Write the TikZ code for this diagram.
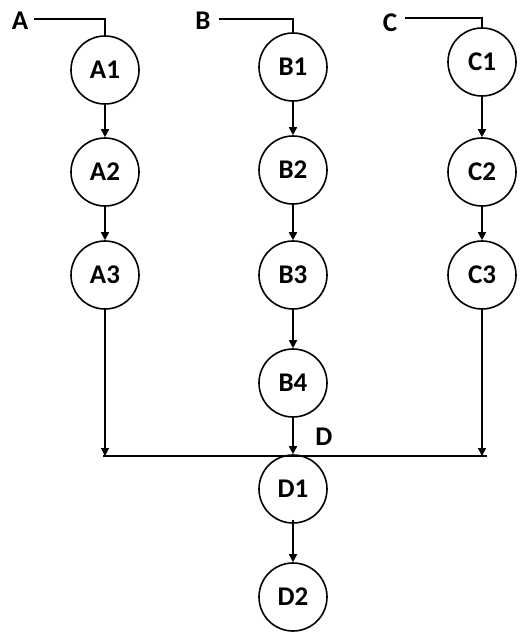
\documentclass[tikz,border=0pt]{standalone}
\usepackage{fontspec}
\setmainfont{Carlito}
\usetikzlibrary{arrows.meta}
\begin{document}
\begin{tikzpicture}[x=1pt,y=-1pt,
  circ/.style={draw,circle,line width=1.6pt,minimum size=68pt,inner sep=0pt,font=\fontsize{27}{29}\selectfont\bfseries},
  lab/.style={inner sep=0pt,font=\fontsize{27}{29}\selectfont\bfseries},
  ln/.style={line width=1.6pt},
  arr/.style={line width=1.6pt,-{Triangle[length=8pt,width=8pt]}}]
\useasboundingbox (0,0) rectangle (530,640);
% column A
\node[circ] (A1) at (105,70) {A1};
\node[circ] (A2) at (105,172) {A2};
\node[circ] (A3) at (105,275) {A3};
% column B
\node[circ] (B1) at (293,67) {B1};
\node[circ] (B2) at (293,170) {B2};
\node[circ] (B3) at (293,275) {B3};
\node[circ] (B4) at (293,383) {B4};
% column C
\node[circ] (C1) at (482,62) {C1};
\node[circ] (C2) at (482,172) {C2};
\node[circ] (C3) at (482,275) {C3};
% D
\node[circ] (D1) at (293,489) {D1};
\node[circ] (D2) at (293,597) {D2};
% labels
\node[lab] (LA) at (20,21) {A};
\node[lab] (LB) at (203,21) {B};
\node[lab] (LC) at (390,23) {C};
\node[lab] (LD) at (324,437) {D};
% inputs
\draw[ln] ([xshift=6pt,yshift=2pt]LA.east) -| (A1.north);
\draw[ln] ([xshift=8pt,yshift=2pt]LB.east) -| (B1.north);
\draw[ln] ([xshift=8pt,yshift=5pt]LC.east) -| (C1.north);
% chains
\draw[arr] (A1) -- (A2);
\draw[arr] (A2) -- (A3);
\draw[arr] (B1) -- (B2);
\draw[arr] (B2) -- (B3);
\draw[arr] (B3) -- (B4);
\draw[arr] (C1) -- (C2);
\draw[arr] (C2) -- (C3);
% bus
\coordinate (busL) at (103,456);
\coordinate (busR) at (487,456);
\draw[ln] (busL) -- (busR);
\draw[arr] (A3.south) -- (A3.south |- busL);
\draw[arr] (C3.south) -- (C3.south |- busR);
\draw[arr] (B4) -- (D1);
\draw[arr] ([yshift=4pt]D1.south) -- (D2);
\end{tikzpicture}
\end{document}
